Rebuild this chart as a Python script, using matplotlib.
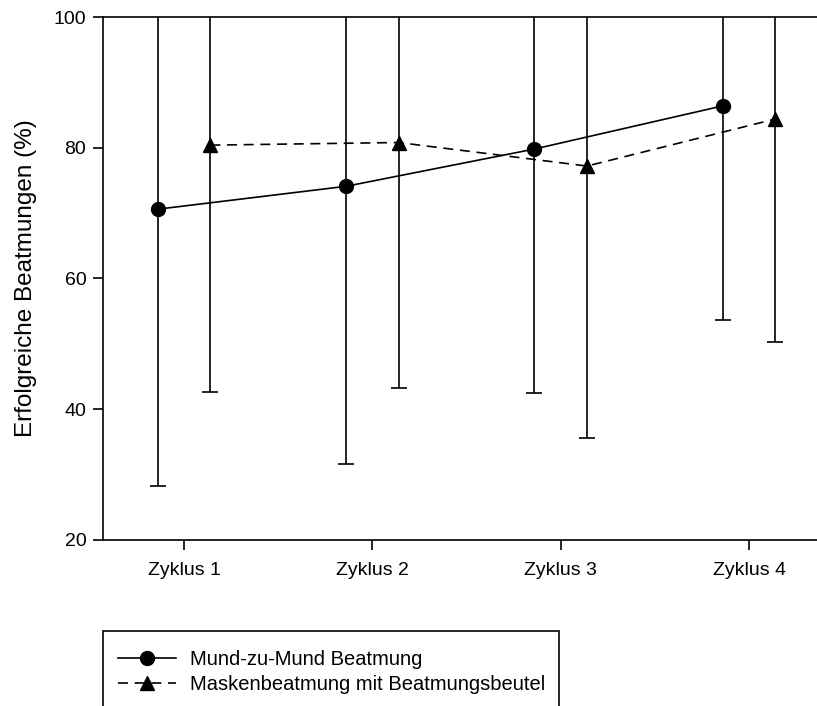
import matplotlib.pyplot as plt
import numpy as np
from matplotlib.lines import Line2D
from matplotlib.patches import Rectangle

plt.rcParams['font.family'] = ['Liberation Sans', 'DejaVu Sans']

zyklen = ["Zyklus 1", "Zyklus 2", "Zyklus 3", "Zyklus 4"]
mund_mean = [70.6, 74.1, 79.8, 86.4]
mund_sd = [42.3, 42.5, 37.3, 32.8]
maske_mean = [80.4, 80.8, 77.2, 84.4]
maske_sd = [37.8, 37.6, 41.6, 34.1]

x = np.arange(1, len(zyklen) + 1)
off = 0.14

W, H = 817, 706
fig = plt.figure(figsize=(W / 100, H / 100), dpi=100)
# axes run past the right edge, like the cropped original
ax = fig.add_axes([103 / W, 1 - 540 / H, (830 - 103) / W, (540 - 17) / H])

ax.errorbar(x - off, mund_mean, yerr=mund_sd, fmt='-o', color='black',
            lw=1.2, ms=10, capsize=6, elinewidth=1.2, capthick=1.2)
ax.errorbar(x + off, maske_mean, yerr=maske_sd, fmt='--^', color='black',
            lw=1.2, ms=10, capsize=6, elinewidth=1.2, capthick=1.2,
            dashes=(6, 4))

ax.set_ylim(20, 100)
ax.set_xlim(x[0] - 0.43, x[-1] + 0.43)
ax.set_yticks([20, 40, 60, 80, 100])
ax.set_xticks(x)
ax.set_xticklabels(zyklen)
ax.tick_params(direction='out', length=7, width=1.2, labelsize=14, pad=9)
ax.tick_params(axis='y', pad=5)
for s in ax.spines.values():
    s.set_linewidth(1.2)
ax.spines['right'].set_visible(False)
ax.set_ylabel("Erfolgreiche Beatmungen (%)", fontsize=17.5, labelpad=12)

# legend box, its lower edge is cut off by the image border
fig.patches.append(Rectangle((103 / W, 1 - 720 / H), (559 - 103) / W, (720 - 631) / H,
                             transform=fig.transFigure, fill=False,
                             edgecolor='black', lw=1.2))
handles = [
    Line2D([], [], color='black', lw=1.2, marker='o', ms=10),
    Line2D([], [], color='black', lw=1.2, ls='--', dashes=(6, 4), marker='^', ms=10),
]
fig.legend(handles, ["Mund-zu-Mund Beatmung", "Maskenbeatmung mit Beatmungsbeutel"],
           loc='upper left', bbox_to_anchor=(118 / W, 1 - 650 / H),
           fontsize=14.5, frameon=False, handlelength=2.9,
           borderpad=0, labelspacing=0.32, handletextpad=0.7,
           borderaxespad=0)

fig.savefig("out.png", dpi=100)
